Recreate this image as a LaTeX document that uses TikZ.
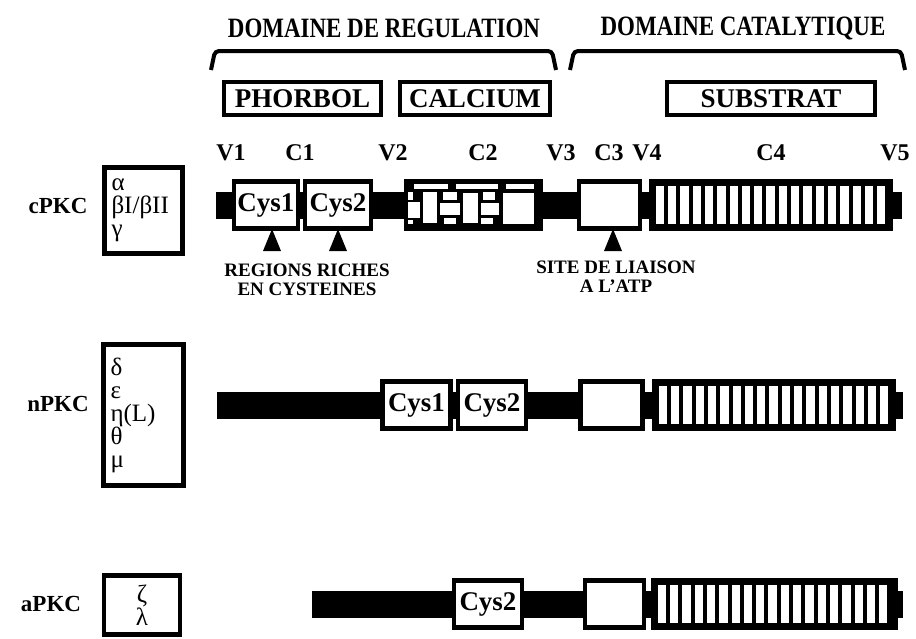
\documentclass[tikz,border=0pt]{standalone}
\usepackage{fontspec}
\setmainfont{Liberation Serif}
\newfontfamily\titlefont[FakeStretch=0.82]{Liberation Serif}
\usetikzlibrary{calc,positioning}

\begin{document}
\begin{tikzpicture}[x=1pt, y=-1pt,
        title/.style={font=\titlefont\bfseries\fontsize{28}{28}\selectfont},
        brace/.style={line width=4pt, rounded corners=4pt},
        site/.style={draw, line width=4pt, minimum height=33pt, inner sep=0pt, font=\bfseries\fontsize{27}{27}\selectfont},
        region/.style={font=\bfseries\fontsize{24}{24}\selectfont},
        kind/.style={font=\bfseries\fontsize{23}{23}\selectfont},
        fam/.style={draw, line width=4.5pt, fill=white, inner xsep=7pt, inner ysep=0pt, align=left, font=\fontsize{25}{23}\selectfont},
        bar/.style={line width=27pt},
        dom/.style={draw, line width=4.5pt, fill=white, inner sep=0pt, minimum height=47pt, font=\bfseries\fontsize{27}{27}\selectfont},
        note/.style={align=center, font=\bfseries\fontsize{19}{19}\selectfont}]
        \useasboundingbox (0,0) rectangle (916,638);
        % Domains
        \node[title] (reg) at (384,28) {DOMAINE DE REGULATION};
        \node[title] (cat) at (743,28) {DOMAINE CATALYTIQUE};
        \draw[brace] (211,70) -- (215,51) -- (552,51) -- (556,70);
        \draw[brace] (570,70) -- (574,51) -- (901,51) -- (905,70);
        \node[site, minimum width=157pt] (phorbol) at (302.5,98.5) {PHORBOL};
        \node[site, minimum width=150pt] (calcium) at (475,98.5) {CALCIUM};
        \node[site, minimum width=208pt] (substrat) at (771,98.5) {SUBSTRAT};
        % Regions
        \node[region] (v1) at (231,153) {V1};
        \node[region] (c1) at (300,153) {C1};
        \node[region] (v2) at (393,153) {V2};
        \node[region] (c2) at (483,153) {C2};
        \node[region] (v3) at (561,153) {V3};
        \node[region] (c3) at (609,153) {C3};
        \node[region] (v4) at (647,153) {V4};
        \node[region] (c4) at (771,153) {C4};
        \node[region] (v5) at (895,153) {V5};
        % cPKC
        \node[kind] (cpkc) at (58,206) {cPKC};
        \node[fam, minimum width=78pt, minimum height=86pt, text width=64pt] (cfam) at (143.5,210.5) {α\\βI/βII\\γ};
        \coordinate (cL) at (216,205);
        \coordinate (cR) at (902,205);
        \draw[bar] (cL) -- (cR);
        \node[dom, minimum width=64pt] (ccys1) at (266,205) {Cys1};
        \node[dom, minimum width=66pt] (ccys2) at (338,205) {Cys2};
        \node[dom, minimum width=135pt, fill=black] (cc2) at (473.5,205) {};
        \node[dom, minimum width=61pt] (cc3) at (609.5,205) {};
        \node[dom, minimum width=240pt, fill=black] (cc4) at (771,205) {};
        \begin{scope}[shift={($(cc2.north west)+(2.5,2.5)$)}, white]
            \fill (8,2) rectangle (42,7);
            \fill (50,2) rectangle (92,7);
            \fill (100,2) rectangle (128,7);
            \fill (2,10) rectangle (7,18);
            \fill (2,20) rectangle (14,36);
            \fill (2,38) rectangle (7,42);
            \fill (17,10) rectangle (31,41);
            \fill (34,21) rectangle (54,33);
            \fill (37,10) rectangle (51,18);
            \fill (38,36) rectangle (50,42);
            \fill (57,11) rectangle (72,41);
            \fill (75,21) rectangle (93,33);
            \fill (77,10) rectangle (89,18);
            \fill (75,36) rectangle (87,42);
            \fill (97,11) rectangle (128,42);
        \end{scope}
        \foreach \i in {0,...,18}
            \fill[white] ($(cc4.west)+(7+\i*12.3,-19)$) rectangle +(8.3,38);
        \fill (272,229) -- ++(9,22) -- ++(-18,0) -- cycle;
        \fill (338,229) -- ++(9,22) -- ++(-18,0) -- cycle;
        \fill (613,229) -- ++(9,22) -- ++(-18,0) -- cycle;
        \node[note] (rich) at (307,280) {REGIONS RICHES\\EN CYSTEINES};
        \node[note] (atp) at (616,277) {SITE DE LIAISON\\A L'ATP};
        % nPKC
        \node[kind] (npkc) at (58,404) {nPKC};
        \node[fam, minimum width=80pt, minimum height=141pt, text width=66pt] (nfam) at (143.5,415) {δ\\ε\\η(L)\\θ\\μ};
        \coordinate (nL) at (217,405);
        \coordinate (nR) at (903,405);
        \draw[bar] (nL) -- (nR);
        \node[dom, minimum width=68pt] (ncys1) at (416.5,405) {Cys1};
        \node[dom, minimum width=68pt] (ncys2) at (492,405) {Cys2};
        \node[dom, minimum width=62pt] (nc3) at (611.5,405) {};
        \node[dom, minimum width=240pt, fill=black] (nc4) at (774,405) {};
        \foreach \i in {0,...,18}
            \fill[white] ($(nc4.west)+(7+\i*12.3,-19)$) rectangle +(8.3,38);
        % aPKC
        \node[kind] (apkc) at (51,604) {aPKC};
        \node[fam, minimum width=76pt, minimum height=59pt, align=center] (afam) at (142,605) {ζ\\λ};
        \coordinate (aL) at (312,604);
        \coordinate (aR) at (903,604);
        \draw[bar] (aL) -- (aR);
        \node[dom, minimum width=68pt] (acys2) at (488,604) {Cys2};
        \node[dom, minimum width=59pt] (ac3) at (614.5,604) {};
        \node[dom, minimum width=243pt, fill=black] (ac4) at (774.5,604) {};
        \foreach \i in {0,...,18}
            \fill[white] ($(ac4.west)+(7+\i*12.3,-19)$) rectangle +(8.3,38);
    \end{tikzpicture}
\end{document}
